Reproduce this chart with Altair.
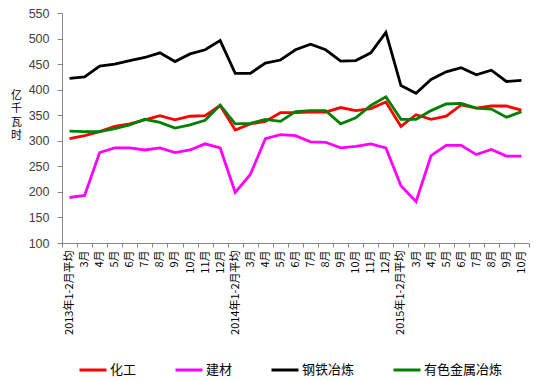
import altair as alt
import pandas as pd

labels = ["2013年1-2月平均", "3月", "4月", "5月", "6月", "7月", "8月", "9月", "10月", "11月", "12月",
          "2014年1-2月平均", "3月", "4月", "5月", "6月", "7月", "8月", "9月", "10月", "11月", "12月",
          "2015年1-2月平均", "3月", "4月", "5月", "6月", "7月", "8月", "9月", "10月"]

series_names = ["化工", "建材", "钢铁冶炼", "有色金属冶炼"]
series_colors = ["#FF0000", "#FF00FF", "#000000", "#008000"]

chem = [304, 310, 318, 328, 333, 341, 349, 341, 348, 349, 369,
        321, 333, 338, 355, 355, 356, 356, 365, 359, 363, 376,
        328, 351, 342, 348, 370, 364, 368, 368, 360]
build = [189, 193, 277, 286, 286, 282, 286, 277, 282, 294, 286,
         199, 234, 304, 312, 310, 298, 297, 286, 289, 294, 286,
         212, 181, 271, 291, 291, 273, 283, 270, 270]
steel = [422, 425, 446, 450, 457, 463, 472, 455, 470, 478, 496,
         432, 432, 452, 458, 478, 489, 478, 456, 457, 472, 512,
         408, 393, 420, 435, 443, 429, 438, 416, 418]
metal = [319, 318, 318, 324, 331, 342, 336, 325, 331, 340, 370,
         333, 334, 342, 338, 357, 359, 359, 333, 345, 369, 386,
         342, 342, 359, 372, 373, 364, 362, 346, 357]

rows = []
for name, vals in zip(series_names, [chem, build, steel, metal]):
    for i, v in enumerate(vals):
        rows.append({"idx": i, "series": name, "value": v})
df = pd.DataFrame(rows)

label_expr = "[" + ",".join("'" + l + "'" for l in labels) + "][datum.value]"
FONT = "Noto Sans CJK SC"

chart = alt.Chart(df).mark_line(strokeWidth=2.8).encode(
    x=alt.X("idx:O",
            scale=alt.Scale(type="band", paddingInner=0, paddingOuter=0),
            axis=alt.Axis(title=None, labelExpr=label_expr, labelAngle=-90,
                          labelFontSize=11, labelFont=FONT, labelColor="#000000",
                          labelPadding=3, tickSize=4, tickBand="extent",
                          domainColor="#868686", tickColor="#868686",
                          labelOverlap=False, grid=False)),
    y=alt.Y("value:Q",
            scale=alt.Scale(domain=[100, 550], nice=False, zero=False),
            axis=alt.Axis(values=list(range(100, 551, 50)), grid=False,
                          title=["亿", "千", "瓦", "时"], titleAngle=0,
                          titleFont=FONT, titleFontSize=11, titleFontWeight="normal",
                          titleLineHeight=13.5, titleX=-46, titleY=76,
                          titleAlign="center", titleBaseline="top",
                          titleColor="#000000",
                          labelFontSize=12.5, labelFont="Liberation Sans",
                          labelColor="#404040", labelPadding=8, tickSize=5,
                          domainColor="#868686", tickColor="#868686")),
    color=alt.Color("series:N",
                    scale=alt.Scale(domain=series_names, range=series_colors),
                    legend=alt.Legend(title=None, orient="none", legendX=16, legendY=342,
                                      direction="horizontal", symbolType="stroke",
                                      symbolSize=729, symbolStrokeWidth=3,
                                      labelFontSize=13, labelFont=FONT,
                                      labelColor="#000000", columnPadding=32,
                                      labelOffset=2, padding=0)),
    detail="series:N",
).properties(
    width=467, height=230,
    autosize=alt.AutoSizeParams(type="none"),
    padding={"left": 54, "top": 5, "right": 11, "bottom": 138},
).configure_view(stroke=None)

chart.save("out.html", embed_options={"renderer": "svg", "actions": False})
